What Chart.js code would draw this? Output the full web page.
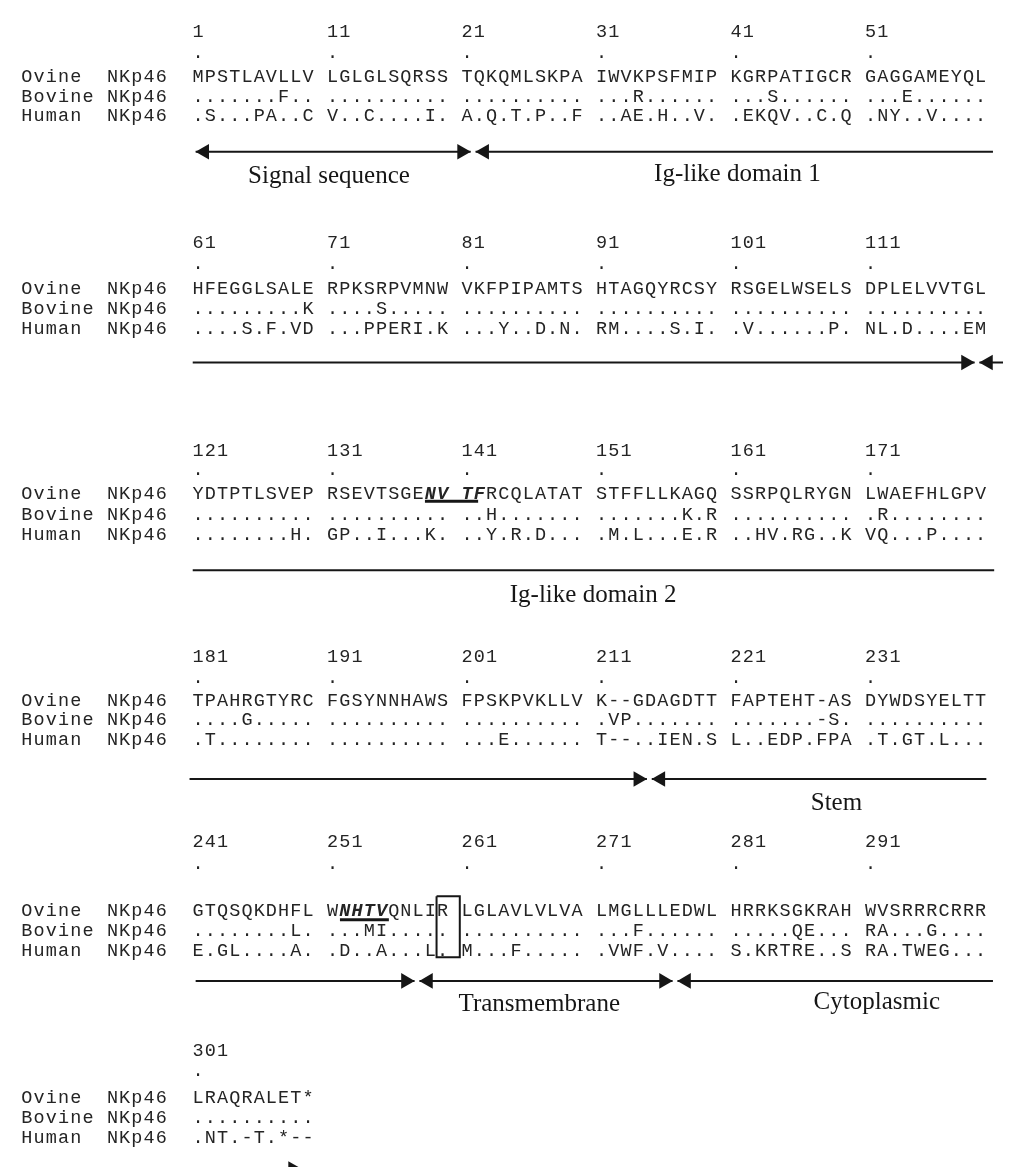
<!DOCTYPE html>
<html>
<head>
<meta charset="utf-8">
<script src="https://cdn.jsdelivr.net/npm/chart.js@4.4.1/dist/chart.umd.min.js"></script>
<style>
html, body { margin: 0; padding: 0; background: #fff; }
canvas { display: block; }
</style>
</head>
<body>
<canvas id="aln" width="1012" height="1176"></canvas>
<script>
// ---- data: NKp46 alignment, one entry per printed block of 60 residues ----
var names = ['Ovine  NKp46', 'Bovine NKp46', 'Human  NKp46'];

var blockStarts = [
    [1, 11, 21, 31, 41, 51],
    [61, 71, 81, 91, 101, 111],
    [121, 131, 141, 151, 161, 171],
    [181, 191, 201, 211, 221, 231],
    [241, 251, 261, 271, 281, 291],
    [301]
];

var ovine = [
    'MPSTLAVLLV LGLGLSQRSS TQKQMLSKPA IWVKPSFMIP KGRPATIGCR GAGGAMEYQL',
    'HFEGGLSALE RPKSRPVMNW VKFPIPAMTS HTAGQYRCSY RSGELWSELS DPLELVVTGL',
    'YDTPTLSVEP RSEVTSGENV TFRCQLATAT STFFLLKAGQ SSRPQLRYGN LWAEFHLGPV',
    'TPAHRGTYRC FGSYNNHAWS FPSKPVKLLV K--GDAGDTT FAPTEHT-AS DYWDSYELTT',
    'GTQSQKDHFL WNHTVQNLIR LGLAVLVLVA LMGLLLEDWL HRRKSGKRAH WVSRRRCRRR',
    'LRAQRALET*'
];
var bovine = [
    '.......F.. .......... .......... ...R...... ...S...... ...E......',
    '.........K ....S..... .......... .......... .......... ..........',
    '.......... .......... ..H....... .......K.R .......... .R........',
    '....G..... .......... .......... .VP....... .......-S. ..........',
    '........L. ...MI..... .......... ...F...... .....QE... RA...G....',
    '..........'
];
var human = [
    '.S...PA..C V..C....I. A.Q.T.P..F ..AE.H..V. .EKQV..C.Q .NY..V....',
    '....S.F.VD ...PPERI.K ...Y..D.N. RM....S.I. .V......P. NL.D....EM',
    '........H. GP..I...K. ..Y.R.D... .M.L...E.R ..HV.RG..K VQ...P....',
    '.T........ .......... ...E...... T--..IEN.S L..EDP.FPA .T.GT.L...',
    'E.GL....A. .D..A...L. M...F..... .VWF.V.... S.KRTRE..S RA.TWEG...',
    '.NT.-T.*--'
];

// glycosylation motifs printed bold italic + underlined (ovine residues)
var motifResidues = [139, 140, 141, 142, 252, 253, 254, 255];

var domains = ['Signal sequence', 'Ig-like domain 1', 'Ig-like domain 2', 'Stem', 'Transmembrane', 'Cytoplasmic'];

// ---- layout (columns for x, page pixels for y) ----
var COLW = 12.45;
var SEQCOL = 14;
var numY = [22, 236, 447, 657, 844, 1057];
var dotY = [43, 257, 467, 678, 867, 1077];
var rowY = [[68, 88, 107], [283, 303, 323], [491, 512, 533], [701, 721, 741], [915, 935, 955], [1104, 1125, 1145]];

// [y, x0, x1, head at x0, head at x1]
var arrowSegs = [
    [145, 14.3, 36.79, true, true], [145, 37.19, 79.5, true, false],
    [359, 14.06, 78.0, false, true], [359, 78.39, 80.4, true, false],
    [570, 14.06, 79.6, false, false],
    [782, 13.8, 51.2, false, true], [782, 51.6, 78.96, true, false],
    [987, 14.3, 32.2, false, true], [987, 32.6, 53.3, true, true], [987, 53.7, 79.5, true, false],
    [1178, 14.06, 22.97, false, true]
];
var domainPos = [[25.2, 170], [58.6, 168], [46.8, 596], [66.7, 807], [42.4, 1011], [70.0, 1009]];
var underlines = [[500, 33.05, 37.4], [925, 26.1, 30.1]];
var box = [34.0, 35.9, 901, 963];

var HEAD_R = 9;
var ink = '#161616';
var textInk = '#242424';

var datasets = [];
var heads = [];
arrowSegs.forEach(function (s) {
    datasets.push({
        type: 'line', data: [{ x: s[1], y: s[0] }, { x: s[2], y: s[0] }],
        borderColor: ink, borderWidth: 2, pointRadius: 0, fill: false
    });
    if (s[3]) heads.push({ x: s[1] + HEAD_R / COLW, y: s[0], r: 270 });
    if (s[4]) heads.push({ x: s[2] - HEAD_R / COLW, y: s[0], r: 90 });
});
datasets.push({
    type: 'scatter', data: heads,
    pointStyle: 'triangle', pointRadius: HEAD_R, pointBorderWidth: 0,
    pointBackgroundColor: ink,
    pointRotation: function (c) { return c.raw ? c.raw.r : 0; }
});
underlines.forEach(function (u) {
    datasets.push({
        type: 'line', data: [{ x: u[1], y: u[0] }, { x: u[2], y: u[0] }],
        borderColor: ink, borderWidth: 3, pointRadius: 0, fill: false
    });
});
datasets.push({
    type: 'line',
    data: [{ x: box[0], y: box[2] }, { x: box[1], y: box[2] }, { x: box[1], y: box[3] }, { x: box[0], y: box[3] }, { x: box[0], y: box[2] }],
    borderColor: ink, borderWidth: 2, pointRadius: 0, fill: false
});

function isMotif(b, i) {
    var k = Math.floor(i / 11), j = i % 11;
    if (j == 10) return false;
    return motifResidues.indexOf(60 * b + 10 * k + j + 1) >= 0;
}

var textLayer = {
    id: 'textLayer',
    afterDatasetsDraw: function (chart) {
        var ctx = chart.ctx, xs = chart.scales.x, ys = chart.scales.y;
        var mono = '18.5px "Liberation Mono", monospace';
        var monoBI = 'italic bold 18.5px "Liberation Mono", monospace';
        ctx.save();
        ctx.fillStyle = textInk;
        ctx.textAlign = 'left';
        ctx.textBaseline = 'alphabetic';
        function put(str, col, y, fontFn) {
            for (var i = 0; i < str.length; i++) {
                if (str[i] == ' ') continue;
                ctx.font = fontFn ? fontFn(i) : mono;
                ctx.fillText(str[i], xs.getPixelForValue(col + i) + 0.5, ys.getPixelForValue(y) + 6.5);
            }
        }
        for (var b = 0; b < blockStarts.length; b++) {
            blockStarts[b].forEach(function (n, k) {
                put(String(n), SEQCOL + 11 * k, numY[b]);
                put('.', SEQCOL + 11 * k, dotY[b]);
            });
            var seqs = [ovine[b], bovine[b], human[b]];
            for (var r = 0; r < 3; r++) {
                put(names[r], 0, rowY[b][r]);
                (function (bb, rr) {
                    put(seqs[rr], SEQCOL, rowY[bb][rr], function (i) {
                        return rr == 0 && isMotif(bb, i) ? monoBI : mono;
                    });
                })(b, r);
            }
        }
        ctx.fillStyle = ink;
        ctx.textAlign = 'center';
        ctx.font = '25px "Liberation Serif", "Times New Roman", serif';
        ctx.textBaseline = 'middle';
        domains.forEach(function (d, i) {
            ctx.fillText(d, xs.getPixelForValue(domainPos[i][0]), ys.getPixelForValue(domainPos[i][1]));
        });
        ctx.restore();
    }
};

var canvas = document.getElementById('aln');
var myChart = new Chart(canvas, {
    type: 'scatter',
    data: { datasets: datasets },
    options: {
        responsive: false,
        animation: false,
        devicePixelRatio: 1,
        events: [],
        layout: { padding: 0 },
        plugins: { legend: { display: false }, tooltip: { enabled: false } },
        scales: {
            x: { type: 'linear', display: false, min: -12 / COLW, max: (1012 - 12) / COLW },
            y: { type: 'linear', display: false, min: 0, max: 1176, reverse: true }
        }
    },
    plugins: [textLayer]
});
</script>
</body>
</html>
